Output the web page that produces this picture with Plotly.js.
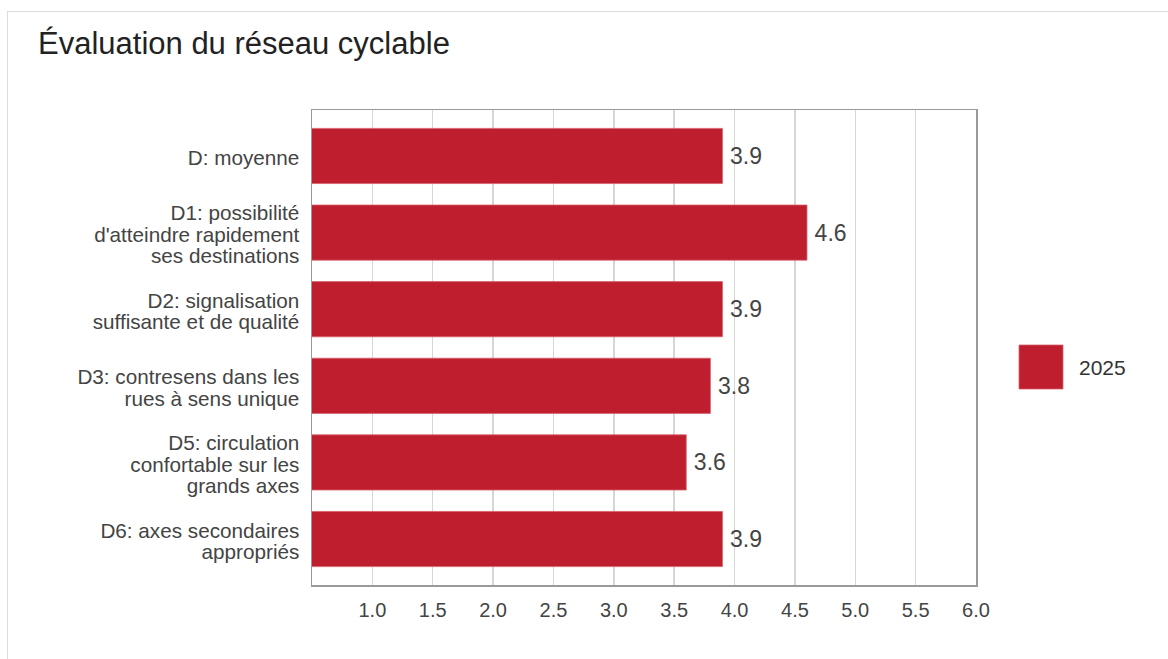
<!DOCTYPE html>
<html>
<head>
<meta charset="utf-8">
<script src="https://cdn.plot.ly/plotly-3.0.1.min.js"></script>
<style>
  html, body { margin: 0; padding: 0; background: #fff; }
  #wrap { position: relative; width: 1168px; height: 659px; overflow: hidden; }
  #chart { width: 1168px; height: 659px; }
  #frame { position: absolute; left: 7px; top: 11px; width: 1200px; height: 700px;
           border-left: 1px solid #dcdcdc; border-top: 1px solid #dcdcdc; pointer-events: none; }
</style>
</head>
<body>
<div id="wrap">
  <div id="chart"></div>
  <div id="frame"></div>
</div>
<script>
const categories = [
  "D: moyenne",
  "D1: possibilité<br>d'atteindre rapidement<br>ses destinations",
  "D2: signalisation<br>suffisante et de qualité",
  "D3: contresens dans les<br>rues à sens unique",
  "D5: circulation<br>confortable sur les<br>grands axes",
  "D6: axes secondaires<br>appropriés"
];
const values2025 = [3.9, 4.6, 3.9, 3.8, 3.6, 3.9];
const seriesName = "2025";
const xTickVals = [1.0, 1.5, 2.0, 2.5, 3.0, 3.5, 4.0, 4.5, 5.0, 5.5, 6.0];
const xTickText = ["1.0", "1.5", "2.0", "2.5", "3.0", "3.5", "4.0", "4.5", "5.0", "5.5", "6.0"];

const barColor = "#BE1E2D";
const fontFam = "'Liberation Sans', Arial, sans-serif";

const trace = {
  type: "bar",
  orientation: "h",
  name: seriesName,
  x: values2025,
  y: categories,
  marker: { color: barColor, line: { color: "#d9606b", width: 0.8 } },
  text: values2025.map(v => "\u2009" + v.toFixed(1)),
  textposition: "outside",
  textfont: { family: fontFam, size: 23, color: "#444" },
  cliponaxis: false,
  hoverinfo: "x+y",
  showlegend: false
};

const layout = {
  width: 1168,
  height: 659,
  margin: { l: 312, r: 192, t: 110, b: 74 },
  paper_bgcolor: "#fff",
  plot_bgcolor: "#fff",
  font: { family: fontFam, size: 20, color: "#444" },
  title: {
    text: "Évaluation du réseau cyclable",
    x: 38 / 1168, xanchor: "left", xref: "container",
    y: 1 - 43 / 659, yanchor: "middle", yref: "container",
    font: { family: fontFam, size: 31, color: "#222" }
  },
  bargap: 0.28,
  xaxis: {
    range: [0.5, 6.0],
    tickvals: xTickVals,
    ticktext: xTickText,
    showgrid: true,
    gridcolor: "#d6d6d6",
    gridwidth: 1.5,
    showline: true,
    linecolor: "#999",
    linewidth: 1.5,
    mirror: true,
    ticks: "",
    ticklabelstandoff: 6,
    zeroline: false,
    tickfont: { family: fontFam, size: 20, color: "#444" },
    fixedrange: true
  },
  yaxis: {
    type: "category",
    range: [5.6, -0.6],
    showgrid: false,
    showline: true,
    linecolor: "#999",
    linewidth: 1.5,
    mirror: true,
    ticks: "",
    ticklabelstandoff: 7,
    tickfont: { family: fontFam, size: 20.7, color: "#444" },
    fixedrange: true
  },
  shapes: [{
    type: "rect", xref: "paper", yref: "paper",
    x0: (1019 - 312) / 664, x1: (1063 - 312) / 664,
    y0: (585 - 389) / 475, y1: (585 - 345) / 475,
    fillcolor: barColor, line: { color: "#d9606b", width: 0.8 }
  }],
  annotations: [{
    xref: "paper", yref: "paper",
    x: (1077 - 312) / 664, y: (585 - 367) / 475,
    xanchor: "left", yanchor: "middle",
    text: seriesName, showarrow: false,
    font: { family: fontFam, size: 21, color: "#333" }
  }]
};

// Tighter line spacing for the multi-line category labels, keeping each block centred
function tightenYLabels(gd, spacing, shiftPx) {
  const texts = gd.querySelectorAll("g.ytick text");
  texts.forEach(t => {
    const lines = Array.from(t.querySelectorAll("tspan.line"));
    if (lines.length >= 2) {
      const orig = lines.map(ln => parseFloat(ln.getAttribute("dy") || "0"));
      const mean = orig.reduce((a, b) => a + b, 0) / orig.length;
      const step = (orig[orig.length - 1] - orig[0]) / (orig.length - 1) || 1.3;
      const k = spacing / step;
      lines.forEach((ln, i) => {
        ln.setAttribute("dy", (mean + (orig[i] - mean) * k).toFixed(3) + "em");
      });
    }
    const tr = t.getAttribute("transform") || "";
    t.setAttribute("transform", (tr + " translate(0," + shiftPx + ")").trim());
  });
}

Plotly.newPlot("chart", [trace], layout, { displayModeBar: false, staticPlot: true })
  .then(gd => tightenYLabels(gd, 1.04, 2));
</script>
</body>
</html>
